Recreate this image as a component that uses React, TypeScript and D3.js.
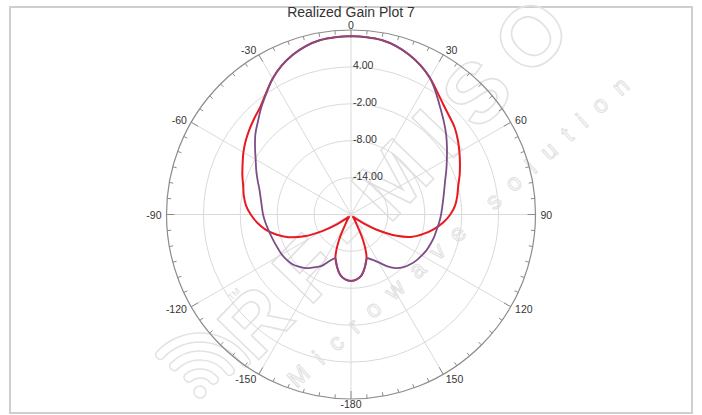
import React from 'react';
import * as d3 from 'd3';

// angles in degrees, 0 at top, clockwise positive
const angles = d3.range(-180, 180, 5);

// realized gain (dB), one value per angle above
const redGain = [
  -9.2, -9.4, -10.0, -11.2, -12.6, -15.3, -18.2, -19.1, -19.5, -19.4, -18.9, -17.2,
  -14.6, -11.6, -9.2, -7.4, -5.9, -4.7, -3.7, -2.85, -2.3, -1.85, -1.2, -0.55,
  0.2, 0.9, 1.55, 2.2, 2.9, 4.1, 5.5, 6.7, 7.65, 8.35, 8.8, 8.95,
  9.0, 8.95, 8.8, 8.35, 7.65, 6.75, 5.65, 4.4, 3.35, 2.6, 2.0, 1.2,
  0.35, -0.45, -1.2, -1.95, -2.45, -3.0, -3.85, -4.95, -6.3, -7.8, -9.4, -11.8,
  -14.8, -17.5, -18.9, -19.4, -19.5, -19.1, -18.2, -15.3, -12.6, -11.2, -10.0, -9.4,
];

const purpleGain = [
  -9.2, -9.4, -10.0, -11.2, -12.4, -11.6, -10.3, -9.5, -8.6, -8.0, -7.5, -7.2,
  -7.0, -6.9, -6.75, -6.55, -6.3, -6.0, -5.7, -5.45, -5.1, -4.6, -3.85, -3.0,
  -2.1, -0.95, 0.3, 1.4, 2.7, 4.0, 5.5, 6.7, 7.65, 8.35, 8.8, 8.95,
  9.0, 8.95, 8.8, 8.35, 7.65, 6.75, 5.65, 4.1, 2.6, 1.35, 0.2, -0.95,
  -2.0, -2.9, -3.7, -4.3, -4.75, -5.1, -5.35, -5.6, -5.85, -6.0, -6.2, -6.4,
  -6.7, -7.0, -7.4, -7.9, -8.6, -9.7, -11.0, -11.9, -12.4, -11.2, -10.0, -9.4,
];

const ringValues = [-14, -8, -2, 4];
const ringLabels = ['-14.00', '-8.00', '-2.00', '4.00'];
const angleLabels = [-180, -150, -120, -90, -60, -30, 0, 30, 60, 90, 120, 150];

const W = 702;
const H = 415;
const cx = 351;
const cy = 214.5;
const R = 184.5;
const FONT = '"Liberation Sans", Arial, sans-serif';

const rad = (deg: number) => (deg * Math.PI) / 180;

const App: React.FC = () => {
  const rScale = d3.scaleLinear().domain([-20, 10]).range([0, R]).clamp(true);

  const line = d3.lineRadial<number>()
    .angle((_, i) => rad(angles[i]))
    .radius(d => rScale(d))
    .curve(d3.curveCatmullRomClosed.alpha(0.5));

  const ticks = d3.range(0, 360, 5);

  // watermark logo arcs
  const logoArc = d3.arc<number>()
    .innerRadius(d => d)
    .outerRadius(d => d + 9)
    .startAngle(-0.2)
    .endAngle(Math.PI / 2 + 0.2)
    .cornerRadius(4);

  return (
    <svg width={W} height={H} style={{ position: 'absolute', left: 0, top: 0, background: '#fff' }}>
      <rect x={10} y={7} width={682} height={406} fill="#fff" stroke="#cfcfcf" strokeWidth={2} />

      {/* watermark */}
      <g fontFamily={FONT} pointerEvents="none">
        <g transform="translate(200,392) rotate(-40)">
          {[14, 32, 50].map(r => (
            <path key={r} d={logoArc(r) ?? ''} fill="none" stroke="#e2e2e2" strokeWidth={1.5} />
          ))}
          <circle r={6} fill="none" stroke="#e2e2e2" strokeWidth={1.5} />
        </g>
        <text transform="translate(234,294) rotate(-46)" textAnchor="middle" dominantBaseline="central"
          fontSize={9} fill="#dcdcdc">TM</text>
        <text
          transform="translate(394,178) rotate(-46)"
          textAnchor="middle" dominantBaseline="central"
          fontSize={84} fontWeight="bold" fill="none" stroke="#e2e2e2" strokeWidth={1.6}
          textLength={460} lengthAdjust="spacing"
        >RF-MISO</text>
        <text
          transform="translate(458,232) rotate(-42)"
          textAnchor="middle" dominantBaseline="central"
          fontSize={24} fill="none" stroke="#e0e0e0" strokeWidth={1}
          textLength={450} lengthAdjust="spacing"
        >Microwave solution</text>
      </g>

      <text x={cx} y={17} textAnchor="middle" fontFamily={FONT} fontSize={14} fill="#333">
        Realized Gain Plot 7
      </text>

      <g transform={`translate(${cx},${cy})`}>
        {/* rings */}
        {ringValues.map(v => (
          <circle key={v} r={rScale(v)} fill="none" stroke="#dadada" strokeWidth={1} />
        ))}
        {/* spokes */}
        {angleLabels.map(a => (
          <line key={a} x1={0} y1={0}
            x2={R * Math.sin(rad(a))} y2={-R * Math.cos(rad(a))}
            stroke="#dadada" strokeWidth={1} />
        ))}
        {/* outer ring and ticks */}
        <circle r={R} fill="none" stroke="#8c8c8c" strokeWidth={1.2} />
        {ticks.map(a => {
          const len = a % 30 === 0 ? 8 : 4;
          const s = Math.sin(rad(a));
          const c = Math.cos(rad(a));
          return (
            <line key={a} x1={R * s} y1={-R * c} x2={(R - len) * s} y2={-(R - len) * c}
              stroke="#8c8c8c" strokeWidth={1} />
          );
        })}
        {/* angle labels */}
        {angleLabels.map(a => {
          const s = Math.sin(rad(a));
          const c = Math.cos(rad(a));
          const anchor = Math.abs(s) < 0.01 ? 'middle' : s > 0 ? 'start' : 'end';
          return (
            <text key={a} x={(R + 5) * s} y={-(R + 5) * c} textAnchor={anchor}
              dominantBaseline="central" fontFamily={FONT} fontSize={10.5} fill="#333">
              {a}
            </text>
          );
        })}
        {/* radial labels */}
        {ringValues.map((v, i) => (
          <text key={v} x={2} y={-rScale(v) - 2} dominantBaseline="central"
            fontFamily={FONT} fontSize={10.5} fill="#333">
            {ringLabels[i]}
          </text>
        ))}

        {/* data */}
        <path d={line(redGain) ?? ''} fill="none" stroke="#e8191f" strokeWidth={2} />
        <path d={line(purpleGain) ?? ''} fill="none" stroke="#7d4d88" strokeWidth={1.8} />
      </g>
    </svg>
  );
};

export default App;
